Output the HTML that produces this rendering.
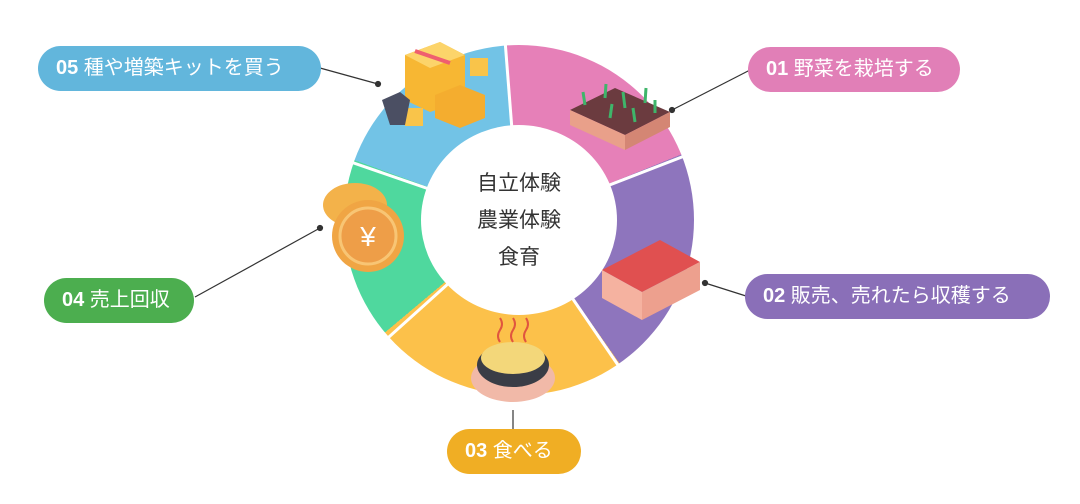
<!DOCTYPE html>
<html><head><meta charset="utf-8"><style>
body{margin:0;width:1080px;height:504px;background:#fff;position:relative;overflow:hidden;font-family:"Liberation Sans","Noto Sans CJK JP",sans-serif}
.ring{position:absolute;left:344px;top:45px;width:350px;height:350px;border-radius:50%;
background:conic-gradient(from 0deg,#e680b8 0deg 68deg,#8e75bd 68deg 145deg,#fcc14a 145deg 230deg,#4fd89e 230deg 290deg,#72c3e6 290deg 356deg,#e680b8 356deg 360deg)}
.inner{position:absolute;left:421px;top:125px;width:196px;height:190px;border-radius:50%;background:#fff;text-align:center;font-size:21px;color:#333;line-height:37px;padding-top:40px;box-sizing:border-box}
.pill{position:absolute;height:45px;border-radius:23px;color:#fff;font-size:20px;line-height:45px;padding-left:18px;box-sizing:border-box}
.pill b{font-weight:bold}
svg{position:absolute;left:0;top:0}
</style></head><body>
<div class="ring"></div>
<svg width="1080" height="504">
<g stroke="#fff" stroke-width="3">
<line x1="519" y1="220" x2="505" y2="40"/>
<line x1="519" y1="220" x2="700" y2="150"/>
<line x1="519" y1="220" x2="620" y2="368"/>
<line x1="519" y1="220" x2="380" y2="345"/>
<line x1="519" y1="220" x2="345" y2="160"/>
</g>
</svg>
<div class="inner">自立体験<br>農業体験<br>食育</div>
<svg width="1080" height="504">
<g stroke="#333" stroke-width="1.2" fill="#333">
<line x1="320" y1="68" x2="378" y2="84"/><circle cx="378" cy="84" r="2.5"/>
<line x1="750" y1="70" x2="672" y2="110"/><circle cx="672" cy="110" r="2.5"/>
<line x1="746" y1="296" x2="705" y2="283"/><circle cx="705" cy="283" r="2.5"/>
<line x1="513" y1="430" x2="513" y2="410"/>
<line x1="195" y1="297" x2="320" y2="228"/><circle cx="320" cy="228" r="2.5"/>
</g>
<!-- boxes -->
<polygon points="405,55 440,42 465,55 465,100 430,112 405,100" fill="#f7b733"/>
<polygon points="405,55 440,42 465,55 430,68" fill="#fcd46a"/>
<line x1="415" y1="51" x2="450" y2="63" stroke="#ef5f6f" stroke-width="4"/>
<polygon points="435,95 460,85 485,95 485,118 460,128 435,118" fill="#f4ad2f"/>
<rect x="470" y="58" width="18" height="18" fill="#f9c44a"/>
<rect x="405" y="108" width="18" height="18" fill="#f9c44a"/>
<polygon points="382,100 400,92 410,100 405,125 390,125" fill="#4b4f63"/>
<!-- soil -->
<polygon points="570,110 615,88 670,112 625,135" fill="#6b3b3f"/>
<polygon points="570,110 625,135 625,150 570,125" fill="#e9a08a"/>
<polygon points="625,135 670,112 670,127 625,150" fill="#d48674"/>
<g stroke="#3fb56a" stroke-width="3"><line x1="585" y1="105" x2="583" y2="92"/><line x1="605" y1="98" x2="606" y2="84"/><line x1="625" y1="108" x2="623" y2="92"/><line x1="645" y1="103" x2="646" y2="88"/><line x1="610" y1="118" x2="612" y2="104"/><line x1="635" y1="122" x2="633" y2="108"/><line x1="655" y1="113" x2="655" y2="100"/></g>
<!-- crate -->
<polygon points="602,270 660,240 700,262 642,292" fill="#e05050"/>
<polygon points="602,270 642,292 642,320 602,298" fill="#f5b2a0"/>
<polygon points="642,292 700,262 700,290 642,320" fill="#eda08e"/>
<!-- pot -->
<ellipse cx="513" cy="378" rx="42" ry="24" fill="#f1b9a8"/>
<ellipse cx="513" cy="365" rx="36" ry="22" fill="#3a3d46"/>
<ellipse cx="513" cy="358" rx="32" ry="16" fill="#f3d77a"/>
<g stroke="#e0553f" stroke-width="2" fill="none"><path d="M500 342 q-4 -6 0 -12 q4 -6 0 -12"/><path d="M513 342 q-4 -6 0 -12 q4 -6 0 -12"/><path d="M526 342 q-4 -6 0 -12 q4 -6 0 -12"/></g>
<!-- coins -->
<ellipse cx="355" cy="205" rx="32" ry="22" fill="#f3b24a"/>
<circle cx="368" cy="236" r="36" fill="#f0a544"/>
<circle cx="368" cy="236" r="28" fill="#ee9e48" stroke="#f8c574" stroke-width="3"/>
<text x="368" y="246" font-size="28" fill="#fff" text-anchor="middle" font-family="Liberation Sans">¥</text>
</svg>
<div class="pill" style="left:38px;top:46px;width:283px;background:#62b6dc"><b>05</b> 種や増築キットを買う</div>
<div class="pill" style="left:748px;top:47px;width:212px;background:#e17fb7"><b>01</b> 野菜を栽培する</div>
<div class="pill" style="left:745px;top:274px;width:305px;background:#8a6fb8"><b>02</b> 販売、売れたら収穫する</div>
<div class="pill" style="left:447px;top:429px;width:134px;background:#f0ae24"><b>03</b> 食べる</div>
<div class="pill" style="left:44px;top:278px;width:150px;background:#4cae4f"><b>04</b> 売上回収</div>
</body></html>
